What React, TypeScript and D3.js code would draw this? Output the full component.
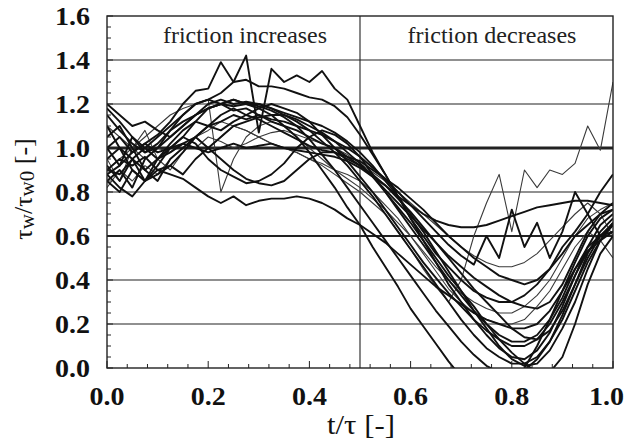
import React from 'react';
import * as d3 from 'd3';

// x grid: t/τ from 0 to 1 in steps of 0.025
const tGrid = d3.range(41).map((i) => +(i * 0.025).toFixed(3));

const yTicks = [0, 0.2, 0.4, 0.6, 0.8, 1.0, 1.2, 1.4, 1.6];
const xTicks = [0, 0.2, 0.4, 0.6, 0.8, 1.0];
const gridValues = [0.2, 0.4, 0.6, 0.8, 1.0, 1.2, 1.4];
const regionLabels = ['friction increases', 'friction decreases'];

const sA = [0.90,0.95,0.92,0.96,0.90,0.88,0.86,0.82,0.78,0.75,0.78,0.74,0.76,0.77,0.77,0.78,0.77,0.75,0.72,0.68,0.65,0.61,0.57,0.52,0.47,0.42,0.37,0.33,0.29,0.25,0.22,0.20,0.18,0.18,0.20,0.26,0.35,0.45,0.53,0.58,0.62];
const sB = [1.00,1.05,0.98,1.02,1.06,1.12,1.20,1.26,1.27,1.39,1.30,1.31,1.28,1.28,1.27,1.25,1.23,1.22,1.19,1.14,1.06,0.97,0.88,0.78,0.68,0.58,0.48,0.38,0.30,0.22,0.15,0.09,0.05,0.04,0.08,0.16,0.28,0.42,0.55,0.65,0.70];
const sC = [0.92,0.85,0.95,1.00,1.05,1.10,1.15,1.20,1.22,1.25,1.30,1.42,1.07,1.36,1.30,1.33,1.30,1.35,1.27,1.22,1.10,0.98,0.88,0.78,0.68,0.60,0.52,0.46,0.40,0.35,0.32,0.30,0.30,0.33,0.38,0.45,0.52,0.60,0.65,0.70,0.72];
const sD = [1.10,1.05,1.00,1.05,1.10,1.15,1.18,1.20,1.22,0.80,0.95,1.05,1.10,1.12,1.10,1.05,1.00,0.95,0.90,0.86,0.82,0.77,0.72,0.66,0.60,0.53,0.46,0.40,0.34,0.30,0.27,0.25,0.25,0.28,0.33,0.40,0.50,0.60,0.68,0.72,0.75];
const sE = [1.20,1.15,1.10,1.12,1.08,1.05,1.10,1.15,1.20,1.22,1.20,1.21,1.20,1.18,1.15,1.12,1.08,1.03,0.98,0.92,0.85,0.78,0.70,0.62,0.54,0.46,0.38,0.30,0.22,0.15,0.09,0.05,0.02,0.02,0.05,0.12,0.22,0.35,0.48,0.58,0.65];
const sF = [0.85,0.90,0.82,0.95,1.00,1.08,1.15,1.20,1.22,1.20,1.22,1.20,1.18,1.15,1.10,1.05,0.98,0.90,0.82,0.73,0.65,0.55,0.46,0.37,0.27,0.19,0.11,0.03,-0.04,-0.10,-0.13,-0.12,-0.08,0.00,0.10,0.22,0.35,0.48,0.60,0.68,0.72];
const sG = [1.10,1.00,0.95,0.90,0.95,1.00,1.05,1.12,1.18,1.20,1.22,1.20,1.19,1.17,1.14,1.10,1.04,0.97,0.90,0.82,0.74,0.66,0.58,0.50,0.42,0.34,0.26,0.19,0.12,0.06,0.01,-0.02,-0.03,-0.01,0.04,0.12,0.24,0.38,0.52,0.62,0.68];
const sH = [0.88,0.92,0.98,1.02,0.98,1.00,1.02,1.00,0.98,1.00,1.02,1.00,1.01,1.02,1.00,0.99,0.98,0.97,0.96,0.94,0.91,0.87,0.83,0.78,0.74,0.70,0.67,0.65,0.64,0.64,0.65,0.67,0.69,0.71,0.73,0.74,0.75,0.76,0.76,0.75,0.74];
const sI = [0.82,0.90,0.85,0.92,0.88,0.95,1.00,1.05,1.08,1.12,1.10,1.08,1.05,1.02,1.00,0.98,0.95,0.92,0.88,0.84,0.80,0.75,0.70,0.62,0.54,0.45,0.37,0.30,0.40,0.60,0.75,0.88,0.62,0.90,0.82,0.90,0.88,0.93,1.10,0.99,1.30];
const sJ = [1.00,0.92,1.05,0.98,1.02,1.08,1.12,1.15,1.18,1.20,1.17,1.18,1.15,1.13,1.12,1.10,1.08,1.06,1.03,1.00,0.96,0.91,0.86,0.80,0.74,0.68,0.62,0.56,0.51,0.47,0.60,0.50,0.72,0.55,0.66,0.50,0.62,0.80,0.70,0.60,0.65];
const sK = [0.95,1.00,0.90,0.85,0.95,1.02,1.08,1.12,1.10,1.15,1.18,1.15,1.13,1.10,1.07,1.04,1.01,0.99,0.98,0.96,0.94,0.90,0.86,0.82,0.77,0.72,0.66,0.60,0.55,0.50,0.46,0.42,0.40,0.38,0.40,0.45,0.55,0.62,0.70,0.80,0.88];
const sL = [1.05,1.10,1.00,0.90,0.85,0.95,1.00,1.05,1.10,1.08,1.12,1.15,1.18,1.20,1.18,1.16,1.12,1.06,1.00,0.94,0.87,0.80,0.72,0.64,0.56,0.48,0.41,0.34,0.28,0.22,0.17,0.13,0.10,0.10,0.13,0.20,0.30,0.42,0.53,0.60,0.65];
const sM = [0.85,0.80,0.90,0.85,0.88,0.92,0.98,1.05,1.10,1.12,1.15,1.13,1.15,1.12,1.10,1.08,1.05,1.02,1.00,0.96,0.92,0.87,0.81,0.75,0.69,0.63,0.57,0.51,0.46,0.41,0.37,0.33,0.30,0.28,0.27,0.30,0.38,0.50,0.62,0.70,0.75];
const sN = [0.90,0.95,1.00,0.95,1.00,0.98,1.02,1.00,1.05,1.03,1.00,1.02,1.05,1.07,1.08,1.06,1.04,1.02,1.00,0.97,0.93,0.89,0.85,0.80,0.75,0.70,0.65,0.60,0.55,0.51,0.48,0.46,0.46,0.48,0.52,0.58,0.64,0.70,0.75,0.70,0.60];
const sO = [1.15,1.08,1.02,0.98,1.00,1.05,1.10,1.15,1.18,1.20,1.19,1.20,1.20,1.18,1.16,1.14,1.12,1.10,1.07,1.03,0.98,0.92,0.85,0.78,0.70,0.62,0.53,0.44,0.35,0.26,0.18,0.10,0.04,0.01,0.02,0.08,0.18,0.30,0.45,0.58,0.66];
const sP = [0.88,0.82,0.78,0.85,0.90,0.92,0.88,0.95,1.00,1.05,1.10,1.12,1.14,1.15,1.15,1.13,1.10,1.07,1.03,0.98,0.93,0.87,0.80,0.73,0.66,0.58,0.50,0.42,0.35,0.28,0.20,0.13,0.07,0.02,-0.02,-0.02,0.05,0.20,0.38,0.52,0.60];
const sQ = [0.95,0.85,1.00,1.08,0.95,0.90,0.98,1.05,1.00,1.05,1.10,1.08,1.05,1.02,1.00,0.98,0.95,0.93,0.90,0.88,0.85,0.80,0.74,0.68,0.60,0.52,0.44,0.36,0.30,0.25,0.22,0.20,0.20,0.22,0.28,0.35,0.45,0.55,0.62,0.58,0.50];
const sR = [1.18,1.12,1.05,1.00,0.95,0.98,1.02,1.05,1.00,0.95,0.90,0.86,0.84,0.83,0.85,0.90,0.95,0.98,0.98,0.95,0.92,0.88,0.83,0.77,0.71,0.64,0.57,0.50,0.43,0.36,0.30,0.24,0.18,0.14,0.13,0.17,0.26,0.38,0.50,0.60,0.66];
const sS = [0.90,0.88,0.95,0.85,0.92,1.00,1.05,1.02,0.95,0.90,0.87,0.84,0.85,0.88,0.93,1.00,1.05,1.08,1.06,1.02,0.96,0.88,0.80,0.72,0.64,0.56,0.48,0.40,0.33,0.26,0.20,0.15,0.12,0.12,0.15,0.22,0.32,0.45,0.55,0.60,0.62];

const thickSeries = [sA, sB, sC, sE, sF, sG, sH, sJ, sK, sL, sM, sO, sP, sR, sS];
const thinSeries = [sD, sI, sN, sQ];

const W = 626;
const H = 447;
const M = { left: 107, right: 613, top: 16, bottom: 368 };

export default function App() {
  const x = d3.scaleLinear().domain([0, 1]).range([M.left, M.right]);
  const y = d3.scaleLinear().domain([0, 1.6]).range([M.bottom, M.top]);
  const line = d3
    .line<number>()
    .x((_, i) => x(tGrid[i]))
    .y((d) => y(d));

  const yMinor = d3.range(0, 33).map((i) => i * 0.05);
  const xMinor = d3.range(0, 26).map((i) => i * 0.04);
  const isMajor = (v: number) => Math.abs(v * 5 - Math.round(v * 5)) < 1e-6;
  const serif = 'Liberation Serif, Times New Roman, serif';

  return (
    <svg width={W} height={H} style={{ position: 'absolute', left: 0, top: 0, background: '#fff' }}>
      <defs>
        <clipPath id="plotClip">
          <rect x={M.left} y={M.top} width={M.right - M.left} height={M.bottom - M.top} />
        </clipPath>
      </defs>
      <rect x={0} y={0} width={W} height={H} fill="#fff" />
      {/* grid */}
      {gridValues.map((g) => (
        <line
          key={g}
          x1={M.left}
          x2={M.right}
          y1={y(g)}
          y2={y(g)}
          stroke="#222"
          strokeWidth={g === 1.0 ? 3.2 : g === 0.6 ? 2.2 : 1.1}
        />
      ))}
      <line x1={x(0.5)} x2={x(0.5)} y1={M.top} y2={M.bottom} stroke="#222" strokeWidth={1.1} />
      {/* curves */}
      <g clipPath="url(#plotClip)" fill="none" strokeLinejoin="round">
        {thinSeries.map((s, i) => (
          <path key={'t' + i} d={line(s) || ''} stroke="#3a3a3a" strokeWidth={1.1} />
        ))}
        {thickSeries.map((s, i) => (
          <path key={'k' + i} d={line(s) || ''} stroke="#111" strokeWidth={1.9} />
        ))}
      </g>
      {/* frame */}
      <rect
        x={M.left}
        y={M.top}
        width={M.right - M.left}
        height={M.bottom - M.top}
        fill="none"
        stroke="#222"
        strokeWidth={1.4}
      />
      {/* ticks */}
      {yMinor.map((v) => (
        <line
          key={'yt' + v}
          x1={M.left}
          x2={M.left + (isMajor(v) ? 6 : 4)}
          y1={y(v)}
          y2={y(v)}
          stroke="#222"
          strokeWidth={1}
        />
      ))}
      {xMinor.map((v) => (
        <line
          key={'xt' + v}
          x1={x(v)}
          x2={x(v)}
          y1={M.bottom}
          y2={M.bottom - (isMajor(v) ? 7 : 4)}
          stroke="#222"
          strokeWidth={1}
        />
      ))}
      {/* tick labels */}
      {yTicks.map((v) => (
        <text
          key={'yl' + v}
          x={90}
          y={y(v)}
          dy="0.34em"
          textAnchor="end"
          fontFamily={serif}
          fontWeight="bold"
          fontSize={26}
          textLength={35}
          lengthAdjust="spacingAndGlyphs"
          fill="#111"
        >
          {v.toFixed(1)}
        </text>
      ))}
      {xTicks.map((v) => (
        <text
          key={'xl' + v}
          x={v === 1 ? 624 : x(v)}
          y={405}
          textAnchor={v === 1 ? 'end' : 'middle'}
          fontFamily={serif}
          fontWeight="bold"
          fontSize={26}
          textLength={35}
          lengthAdjust="spacingAndGlyphs"
          fill="#111"
        >
          {v.toFixed(1)}
        </text>
      ))}
      {/* region labels */}
      <text
        x={245}
        y={43}
        textAnchor="middle"
        fontFamily={serif}
        fontSize={23}
        textLength={164}
        lengthAdjust="spacingAndGlyphs"
        fill="#222"
      >
        {regionLabels[0]}
      </text>
      <text
        x={492}
        y={43}
        textAnchor="middle"
        fontFamily={serif}
        fontSize={23}
        textLength={169}
        lengthAdjust="spacingAndGlyphs"
        fill="#222"
      >
        {regionLabels[1]}
      </text>
      {/* axis titles */}
      <text
        x={361}
        y={434}
        textAnchor="middle"
        fontFamily={serif}
        fontSize={27}
        textLength={68}
        lengthAdjust="spacingAndGlyphs"
        fill="#111"
      >
        t/τ [-]
      </text>
      <text
        transform={`translate(32, 189) rotate(-90)`}
        textAnchor="middle"
        fontFamily={serif}
        fontSize={26}
        fill="#111"
      >
        <tspan>τ</tspan>
        <tspan fontSize={21} dy={2}>w</tspan>
        <tspan dy={-2}>/τ</tspan>
        <tspan fontSize={21} dy={2}>w0</tspan>
        <tspan dy={-2}>{'  [-]'}</tspan>
      </text>
    </svg>
  );
}
